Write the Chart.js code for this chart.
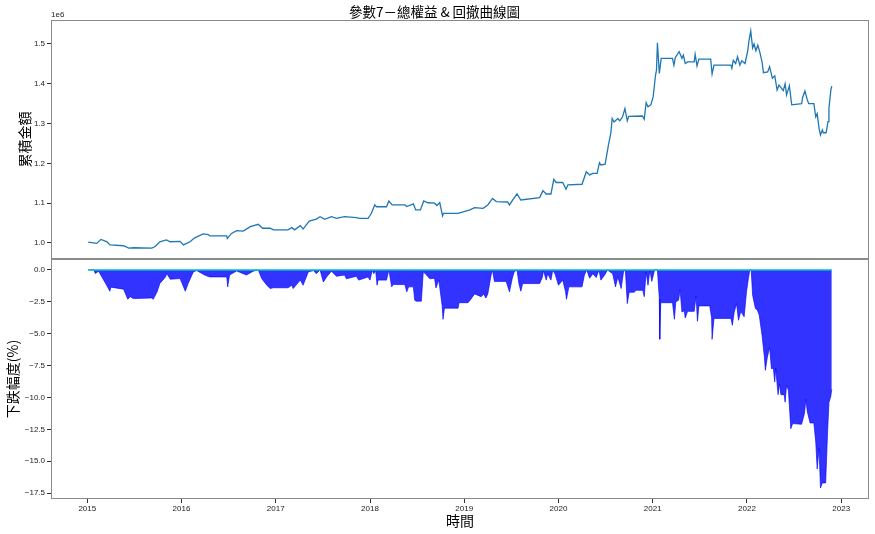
<!DOCTYPE html>
<html>
<head>
<meta charset="utf-8">
<script src="https://cdn.jsdelivr.net/npm/chart.js@4.4.0/dist/chart.umd.min.js"></script>
<style>
  body { margin: 0; background: #fff; }
  #wrap { position: relative; width: 875px; height: 534px; }
  #wrap canvas { position: absolute; left: 0; }
</style>
</head>
<body>
<div id="wrap">
  <canvas id="equityChart" width="875" height="261" style="top:0;width:875px;height:261px"></canvas>
  <canvas id="ddChart" width="875" height="279" style="top:255px;width:875px;height:279px"></canvas>
</div>
<script>
// 總權益 (單位 1e6)
const eqYears = [2015.01, 2015.10, 2015.145, 2015.21, 2015.24, 2015.385, 2015.44, 2015.49, 2015.685, 2015.72,
  2015.77, 2015.84, 2015.88, 2015.985, 2016.02, 2016.09, 2016.14, 2016.23, 2016.285, 2016.30,
  2016.48, 2016.486, 2016.53, 2016.585, 2016.655, 2016.73, 2016.815, 2016.86, 2016.94, 2016.975,
  2017.13, 2017.17, 2017.20, 2017.26, 2017.29, 2017.355, 2017.43, 2017.47, 2017.52, 2017.59,
  2017.645, 2017.73, 2017.855, 2017.89, 2017.98, 2018.015, 2018.05, 2018.07, 2018.175, 2018.20,
  2018.235, 2018.37, 2018.39, 2018.46, 2018.485, 2018.535, 2018.57, 2018.615, 2018.685, 2018.71,
  2018.74, 2018.77, 2018.78, 2018.935, 2019.06, 2019.11, 2019.20, 2019.25, 2019.30, 2019.34,
  2019.46, 2019.48, 2019.52, 2019.56, 2019.60, 2019.80, 2019.835, 2019.87, 2019.92, 2019.95,
  2019.975, 2020.045, 2020.08, 2020.10, 2020.25, 2020.295, 2020.33, 2020.365, 2020.41, 2020.435,
  2020.45, 2020.495, 2020.53, 2020.555, 2020.57, 2020.59, 2020.63, 2020.65, 2020.68, 2020.705,
  2020.73, 2020.745, 2020.89, 2020.91, 2020.93, 2020.95, 2020.98, 2021.005, 2021.03, 2021.04,
  2021.05, 2021.07, 2021.09, 2021.21, 2021.225, 2021.24, 2021.28, 2021.31, 2021.325, 2021.345,
  2021.37, 2021.44, 2021.45, 2021.47, 2021.49, 2021.615, 2021.63, 2021.65, 2021.83, 2021.84,
  2021.855, 2021.88, 2021.90, 2021.925, 2021.945, 2021.98, 2022.01, 2022.02, 2022.04, 2022.06,
  2022.075, 2022.095, 2022.115, 2022.135, 2022.16, 2022.175, 2022.22, 2022.24, 2022.27, 2022.295,
  2022.32, 2022.34, 2022.385, 2022.405, 2022.42, 2022.45, 2022.475, 2022.58, 2022.59, 2022.615,
  2022.64, 2022.655, 2022.71, 2022.73, 2022.745, 2022.765, 2022.78, 2022.80, 2022.81, 2022.84,
  2022.86, 2022.87, 2022.89, 2022.90];
const eqValues = [1.002, 0.999, 1.009, 1.003, 0.995, 0.993, 0.987, 0.988, 0.987, 0.991,
  1.003, 1.0075, 1.003, 1.004, 0.995, 1.003, 1.013, 1.0226, 1.021, 1.0176,
  1.0176, 1.011, 1.024, 1.031, 1.030, 1.041, 1.047, 1.037, 1.037, 1.0327,
  1.033, 1.0385, 1.033, 1.0436, 1.035, 1.055, 1.060, 1.066, 1.0595, 1.066,
  1.062, 1.066, 1.0636, 1.0616, 1.062, 1.0746, 1.0955, 1.091, 1.091, 1.1055,
  1.0955, 1.0955, 1.0915, 1.098, 1.083, 1.083, 1.1055, 1.101, 1.100, 1.094,
  1.1015, 1.068, 1.0745, 1.0745, 1.083, 1.089, 1.087, 1.0955, 1.112, 1.104,
  1.103, 1.0955, 1.110, 1.123, 1.108, 1.114, 1.1315, 1.123, 1.123, 1.160,
  1.152, 1.152, 1.135, 1.146, 1.1475, 1.179, 1.171, 1.175, 1.175, 1.2018,
  1.196, 1.198, 1.246, 1.2756, 1.313, 1.304, 1.313, 1.307, 1.317, 1.338,
  1.307, 1.318, 1.319, 1.311, 1.3525, 1.342, 1.347, 1.3676, 1.422, 1.434,
  1.503, 1.426, 1.464, 1.464, 1.447, 1.466, 1.481, 1.464, 1.472, 1.451,
  1.455, 1.455, 1.474, 1.445, 1.462, 1.462, 1.4246, 1.447, 1.447, 1.439,
  1.459, 1.451, 1.468, 1.447, 1.458, 1.451, 1.485, 1.506, 1.533, 1.490,
  1.500, 1.483, 1.497, 1.481, 1.455, 1.428, 1.430, 1.443, 1.414, 1.420,
  1.3844, 1.397, 1.383, 1.400, 1.372, 1.395, 1.347, 1.350, 1.365, 1.382,
  1.360, 1.350, 1.350, 1.317, 1.325, 1.288, 1.2714, 1.284, 1.277, 1.277,
  1.305, 1.338, 1.384, 1.394];

// 回撤 (%)
const ddYears = [2015.01, 2015.07, 2015.085, 2015.12, 2015.155, 2015.19, 2015.24, 2015.25, 2015.385, 2015.43,
  2015.455, 2015.49, 2015.685, 2015.70, 2015.74, 2015.77, 2015.83, 2015.845, 2015.88, 2015.985,
  2016.04, 2016.07, 2016.125, 2016.16, 2016.25, 2016.30, 2016.48, 2016.49, 2016.51, 2016.585,
  2016.655, 2016.69, 2016.76, 2016.815, 2016.85, 2016.905, 2016.94, 2016.975, 2017.13, 2017.17,
  2017.185, 2017.26, 2017.29, 2017.345, 2017.40, 2017.43, 2017.47, 2017.505, 2017.54, 2017.59,
  2017.645, 2017.73, 2017.75, 2017.855, 2017.88, 2017.98, 2018.0, 2018.025, 2018.04, 2018.06,
  2018.075, 2018.085, 2018.175, 2018.20, 2018.23, 2018.245, 2018.37, 2018.39, 2018.41, 2018.46,
  2018.475, 2018.49, 2018.545, 2018.565, 2018.60, 2018.635, 2018.685, 2018.70, 2018.73, 2018.765,
  2018.775, 2018.79, 2018.935, 2018.945, 2019.04, 2019.06, 2019.11, 2019.18, 2019.205, 2019.23,
  2019.25, 2019.285, 2019.30, 2019.32, 2019.445, 2019.48, 2019.51, 2019.53, 2019.56, 2019.58,
  2019.60, 2019.62, 2019.80, 2019.83, 2019.84, 2019.87, 2019.885, 2019.92, 2019.94, 2019.965,
  2020.0, 2020.045, 2020.075, 2020.085, 2020.11, 2020.25, 2020.275, 2020.30, 2020.33, 2020.365,
  2020.40, 2020.43, 2020.45, 2020.49, 2020.52, 2020.575, 2020.605, 2020.63, 2020.665, 2020.69,
  2020.71, 2020.73, 2020.75, 2020.805, 2020.82, 2020.895, 2020.91, 2020.93, 2020.95, 2020.97,
  2020.99, 2021.02, 2021.05, 2021.07, 2021.075, 2021.085, 2021.21, 2021.23, 2021.245, 2021.275,
  2021.29, 2021.31, 2021.335, 2021.345, 2021.37, 2021.44, 2021.46, 2021.475, 2021.49, 2021.605,
  2021.625, 2021.63, 2021.65, 2021.83, 2021.845, 2021.865, 2021.89, 2021.91, 2021.935, 2021.97,
  2021.995, 2022.015, 2022.03, 2022.045, 2022.06, 2022.09, 2022.11, 2022.13, 2022.16, 2022.185,
  2022.195, 2022.215, 2022.24, 2022.26, 2022.28, 2022.295, 2022.305, 2022.33, 2022.345, 2022.36,
  2022.395, 2022.405, 2022.42, 2022.44, 2022.465, 2022.485, 2022.58, 2022.61, 2022.625, 2022.64,
  2022.67, 2022.71, 2022.73, 2022.745, 2022.765, 2022.78, 2022.80, 2022.835, 2022.855, 2022.87,
  2022.89, 2022.90];
const ddValues = [0, 0, -0.29, -0.1, -0.55, -1.0, -1.67, -1.35, -1.51, -2.3,
  -2.1, -2.25, -2.2, -2.3, -1.73, -1.07, -0.55, -0.29, -0.73, -0.68,
  -1.67, -1.07, -0.16, -0.05, -0.42, -0.55, -0.55, -1.33, -0.4, -0.08,
  -0.3, -0.4, -0.1, 0, -0.68, -1.2, -1.46, -1.4, -1.4, -1.2,
  -1.46, -0.8, -1.2, -0.16, -0.05, -0.3, 0, -0.95, -0.55, -0.1,
  -0.5, -0.4, -0.7, -0.5, -0.8, -0.55, -0.8, 0, -0.3, -0.05,
  -1.2, -0.8, -0.8, 0, -1.33, -1.15, -1.15, -1.72, -1.33, -1.33,
  -2.38, -2.45, -2.45, -0.15, -0.4, -0.7, -0.65, -1.41, -0.8, -2.77,
  -3.87, -3.0, -3.0, -2.57, -2.57, -2.4, -1.88, -2.1, -1.88, -2.2,
  -1.88, -0.4, 0, -0.9, -0.9, -1.72, -0.65, -0.15, 0, -1.07,
  -1.67, -1.07, -1.07, -0.55, -0.05, -0.8, -0.3, -0.8, 0, -0.35,
  -1.2, -0.8, -1.72, -2.3, -1.33, -1.33, -0.4, 0, -0.65, -0.3,
  -0.6, 0, -0.8, -0.4, 0, -0.3, -1.33, -0.55, -1.46, -0.15,
  0, -2.64, -1.75, -1.75, -1.6, -1.6, -2.1, -0.15, -1.2, 0,
  -0.9, 0, 0, -2.25, -5.44, -2.57, -2.57, -3.87, -2.5, -2.38,
  -1.53, -3.3, -3.2, -3.77, -3.25, -3.25, -2.05, -4.03, -2.82, -2.82,
  -3.77, -5.44, -3.8, -3.8, -4.34, -3.3, -2.64, -3.95, -3.25, -3.68,
  -1.72, -0.68, 0, 0, -1.98, -3.03, -3.15, -3.54, -5.13, -6.83,
  -7.87, -6.9, -6.05, -7.75, -7.7, -8.79, -7.7, -9.78, -8.93, -9.78,
  -9.78, -10.37, -9.05, -9.45, -12.45, -12.05, -12.1, -11.25, -10.15, -11.1,
  -12.0, -12.0, -13.5, -15.6, -14.0, -17.1, -16.7, -16.7, -12.8, -10.4,
  -9.9, -9.35];

const zeroYears = [2015.01, 2022.90];
const zeroValues = [0, 0];

const yearTicks = [2015, 2016, 2017, 2018, 2019, 2020, 2021, 2022, 2023];
const equityTicks = [1.0, 1.1, 1.2, 1.3, 1.4, 1.5];
const ddTicks = [0, -2.5, -5, -7.5, -10, -12.5, -15, -17.5];

const toPoints = (xs, ys) => xs.map((x, i) => ({ x: x, y: ys[i] }));
const xMin = 2014.615, xMax = 2023.295;
const cjk = "'Noto Sans CJK TC', 'Noto Sans CJK SC', sans-serif";

Chart.defaults.font.family = "'Liberation Sans', 'DejaVu Sans', sans-serif";
Chart.defaults.color = '#222';
Chart.defaults.animation = false;

const frame = {
  id: 'frame',
  afterDraw(chart) {
    const { ctx, chartArea: a } = chart;
    ctx.save();
    ctx.strokeStyle = '#8a8a8a';
    ctx.lineWidth = 1;
    ctx.strokeRect(a.left + 0.5, a.top + 0.5, a.right - a.left - 1, a.bottom - a.top - 1);
    ctx.restore();
  }
};

const offsetText = {
  id: 'offsetText',
  afterDraw(chart) {
    const { ctx, chartArea: a } = chart;
    ctx.save();
    ctx.fillStyle = '#222';
    ctx.font = "8px 'Liberation Sans', sans-serif";
    ctx.textAlign = 'left';
    ctx.textBaseline = 'bottom';
    ctx.fillText('1e6', a.left, a.top - 1);
    ctx.restore();
  }
};

function yAxis(ticks, min, max, fmt, title, pad) {
  return {
    type: 'linear',
    min: min,
    max: max,
    afterFit(s) { s.width = 51; s.paddingTop = 0; s.paddingBottom = 0; },
    afterBuildTicks(s) { s.ticks = ticks.map(v => ({ value: v })); },
    grid: { drawOnChartArea: false, tickLength: 4, color: '#333' },
    border: { display: false },
    ticks: { font: { size: 8 }, padding: 2, callback: fmt },
    title: { display: true, text: title, color: '#000', font: { family: cjk, size: 14 }, padding: { top: pad } }
  };
}

new Chart(document.getElementById('equityChart'), {
  type: 'line',
  data: {
    datasets: [{
      data: toPoints(eqYears, eqValues),
      borderColor: '#1f77b4',
      borderWidth: 1.3,
      pointRadius: 0,
      tension: 0
    }]
  },
  options: {
    responsive: false,
    layout: { padding: { left: 0, right: 6, top: 0, bottom: 2 } },
    plugins: {
      legend: { display: false },
      tooltip: { enabled: false },
      title: {
        display: true,
        text: '參數7－總權益 & 回撤曲線圖',
        color: '#000',
        font: { family: cjk, size: 13.5, weight: 'normal' },
        padding: { top: 3.8, bottom: 0 }
      }
    },
    scales: {
      x: { type: 'linear', min: xMin, max: xMax, display: false },
      y: yAxis(equityTicks, 0.9597, 1.5603, v => v.toFixed(1), '累積金額', 16)
    }
  },
  plugins: [frame, offsetText]
});

new Chart(document.getElementById('ddChart'), {
  type: 'line',
  data: {
    datasets: [{
      data: toPoints(zeroYears, zeroValues),
      borderColor: '#00bfbf',
      borderWidth: 1.5,
      pointRadius: 0,
      fill: false
    }, {
      data: toPoints(ddYears, ddValues),
      borderColor: 'rgba(0,0,255,0.8)',
      backgroundColor: 'rgba(0,0,255,0.8)',
      borderWidth: 0.8,
      pointRadius: 0,
      tension: 0,
      fill: 'origin'
    }]
  },
  options: {
    responsive: false,
    layout: { padding: { left: 0, right: 6, top: 4, bottom: 0 } },
    plugins: { legend: { display: false }, tooltip: { enabled: false } },
    scales: {
      x: {
        type: 'linear',
        min: xMin,
        max: xMax,
        afterFit(s) { s.height = 35; s.paddingLeft = 0; s.paddingRight = 0; },
        afterBuildTicks(s) { s.ticks = yearTicks.map(v => ({ value: v })); },
        grid: { drawOnChartArea: false, tickLength: 4, color: '#333' },
        border: { display: false },
        ticks: { font: { size: 8 }, padding: 1, maxRotation: 0, autoSkip: false, callback: v => String(v) },
        title: { display: true, text: '時間', color: '#000', font: { family: cjk, size: 14 }, padding: { top: 0, bottom: 5 } }
      },
      y: yAxis(ddTicks, -17.96, 0.855, v => (v === 0 ? '0.0' : '\u2212' + Math.abs(v).toFixed(1)), '下跌幅度(%)', 4)
    }
  },
  plugins: [frame]
});
</script>
</body>
</html>
